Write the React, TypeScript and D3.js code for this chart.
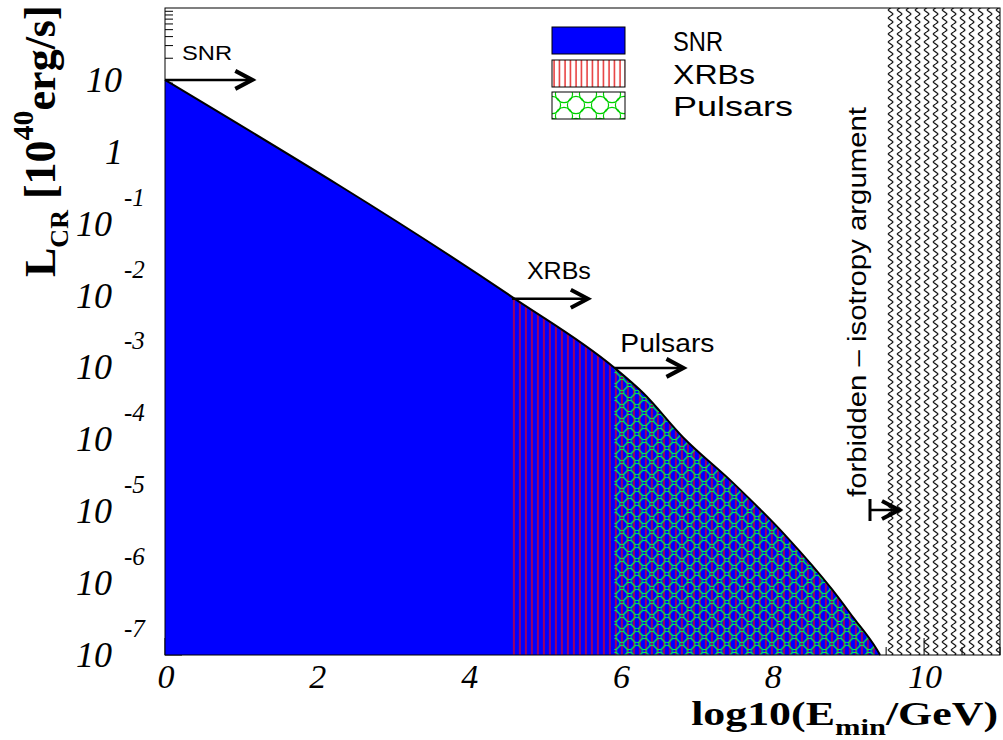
import React from "react";
import * as d3 from "d3";

// Minimum cosmic-ray luminosity curve vs. log10 of the minimum energy
const energyLog = [0, 4.57, 5.92, 6.3, 6.82, 7.48, 8.19, 8.79, 9.06, 9.38, 9.42];
const luminosity = [10, 9.6e-3, 9.9e-4, 4.4e-4, 1.08e-4, 2.5e-5, 4.4e-6, 8.1e-7, 3.4e-7, 1.18e-7, 1.0e-7];

// Energy thresholds where each source class becomes relevant
const xrbStart = 4.57;
const pulsarStart = 5.92;
const forbiddenStart = 9.5;

const xTickValues = [0, 2, 4, 6, 8, 10];
const yExponents = [1, 0, -1, -2, -3, -4, -5, -6, -7];
const legendLabels = ["SNR", "XRBs", "Pulsars"];

// Source annotation arrows: start energy, end energy, luminosity level
const arrowLabels = ["SNR", "XRBs", "Pulsars"];
const arrowStarts = [0, 4.57, 5.92];
const arrowEnds = [1.15, 5.57, 6.83];
const arrowLevels = [10, 9.0e-3, 9.86e-4];

const W = 1003;
const H = 740;
const left = 165;
const right = 1000;
const top = 8;
const bottom = 655;

const x = d3.scaleLinear().domain([0, 11]).range([left, right]);
const y = d3.scaleLog().domain([1e-7, 1e2]).range([bottom, top]);

const points = energyLog.map((e, i) => ({ e, l: luminosity[i] }));

const area = d3
  .area<{ e: number; l: number }>()
  .x((d) => x(d.e))
  .y0(y(1e-7))
  .y1((d) => y(d.l))
  .curve(d3.curveMonotoneX);

const line = d3
  .line<{ e: number; l: number }>()
  .x((d) => x(d.e))
  .y((d) => y(d.l))
  .curve(d3.curveMonotoneX);

const serif = "'Liberation Serif', 'Times New Roman', serif";
const sans = "'Liberation Sans', Arial, sans-serif";

function Arrow({ x0, x1, yy }: { x0: number; x1: number; yy: number }) {
  return (
    <g stroke="#000" fill="none">
      <line x1={x0} y1={yy} x2={x1 - 2} y2={yy} strokeWidth={2.5} />
      <polyline
        points={`${x1 - 17},${yy - 9} ${x1},${yy} ${x1 - 17},${yy + 9}`}
        strokeWidth={4}
        strokeLinejoin="miter"
      />
    </g>
  );
}

export default function App() {
  const areaPath = area(points) || "";
  const linePath = line(points) || "";

  const xMinor = d3.range(0, 11.01, 0.5).filter((v) => Math.abs(v % 2) > 1e-6);
  const yMinor: number[] = [];
  for (let k = -7; k < 2; k++) {
    for (let m = 2; m <= 9; m++) yMinor.push(m * Math.pow(10, k));
  }

  const legendX = 552;
  const legendY = [27, 60, 92];
  const legendTextW = [50, 82, 120];
  const arrowTextDx = [17, 15, 6];
  const arrowTextDy = [-20, -20, -16];
  const arrowTextW = [50, 64, 94];
  const arrowFont = [21, 24, 26];

  return (
    <svg
      width={W}
      height={H}
      style={{ position: "absolute", left: 0, top: 0, background: "#fff" }}
    >
      <defs>
        <pattern id="xrbHatch" width={6} height={10} patternUnits="userSpaceOnUse" x={x(xrbStart)}>
          <line x1={2} y1={0} x2={2} y2={10} stroke="#ff0000" strokeWidth={1.5} strokeOpacity={0.8} />
        </pattern>
        <pattern id="xrbLegend" width={5.5} height={10} patternUnits="userSpaceOnUse" x={legendX}>
          <line x1={2} y1={0} x2={2} y2={10} stroke="#e00000" strokeWidth={1.2} />
        </pattern>
        <pattern id="pulsarHatch" width={15} height={14} patternUnits="userSpaceOnUse" x={x(pulsarStart)}>
          {[
            [0, 0],
            [15, 0],
            [0, 14],
            [15, 14],
            [7.5, 7],
          ].map(([cx, cy], i) => (
            <circle key={i} cx={cx} cy={cy} r={5.6} fill="none" stroke="#00ff40" strokeWidth={1} />
          ))}
        </pattern>
        <pattern
          id="pulsarLegend"
          width={24}
          height={22}
          patternUnits="userSpaceOnUse"
          x={legendX - 12}
          y={legendY[2] + 2}
        >
          {[
            [0, 0],
            [24, 0],
            [0, 22],
            [24, 22],
            [12, 11],
          ].map(([cx, cy], i) => (
            <circle key={i} cx={cx} cy={cy} r={8.6} fill="none" stroke="#00d000" strokeWidth={1.2} />
          ))}
        </pattern>
        <pattern id="wave" width={9} height={8} patternUnits="userSpaceOnUse" x={x(forbiddenStart)} y={top}>
          <path d="M4.5,0 C1.4,2 1.4,2 4.5,4 C7.6,6 7.6,6 4.5,8" fill="none" stroke="#000" strokeWidth={1.3} />
        </pattern>
        <clipPath id="xrbClip">
          <rect x={x(xrbStart)} y={top} width={right - x(xrbStart)} height={bottom - top} />
        </clipPath>
        <clipPath id="pulsarClip">
          <rect x={x(pulsarStart)} y={top} width={right - x(pulsarStart)} height={bottom - top} />
        </clipPath>
      </defs>

      {/* axis ticks, drawn below the filled areas */}
      <g stroke="#000" strokeWidth={1}>
        {xTickValues.map((v) => (
          <line key={`xt${v}`} x1={x(v)} x2={x(v)} y1={bottom} y2={bottom - 17} />
        ))}
        {xMinor.map((v) => (
          <line key={`xm${v}`} x1={x(v)} x2={x(v)} y1={bottom} y2={bottom - 8} />
        ))}
        {yExponents.map((k) => (
          <line key={`yt${k}`} x1={left} x2={left + 17} y1={y(Math.pow(10, k))} y2={y(Math.pow(10, k))} />
        ))}
        {yMinor.map((v, i) => (
          <line key={`ym${i}`} x1={left} x2={left + 8} y1={y(v)} y2={y(v)} />
        ))}
      </g>

      {/* luminosity regions */}
      <path d={areaPath} fill="#0000ff" />
      <path d={areaPath} fill="url(#xrbHatch)" clipPath="url(#xrbClip)" />
      <path d={areaPath} fill="url(#pulsarHatch)" clipPath="url(#pulsarClip)" />
      <path d={linePath} fill="none" stroke="#000" strokeWidth={2} />

      {/* forbidden region */}
      <rect
        x={x(forbiddenStart)}
        y={top}
        width={right - x(forbiddenStart)}
        height={bottom - top}
        fill="url(#wave)"
      />

      {/* frame */}
      <rect x={left} y={top} width={right - left} height={bottom - top} fill="none" stroke="#000" strokeWidth={1} />

      {/* source arrows */}
      {arrowLabels.map((lab, i) => {
        const yy = y(arrowLevels[i]);
        const xs = x(arrowStarts[i]);
        return (
          <g key={lab}>
            <Arrow x0={xs} x1={x(arrowEnds[i])} yy={yy} />
            <text
              x={xs + arrowTextDx[i]}
              y={yy + arrowTextDy[i]}
              fontFamily={sans}
              fontSize={arrowFont[i]}
              textLength={arrowTextW[i]}
              lengthAdjust="spacingAndGlyphs"
            >
              {lab}
            </text>
          </g>
        );
      })}

      {/* forbidden annotation */}
      <g>
        <line x1={870} x2={870} y1={499} y2={521} stroke="#000" strokeWidth={3} />
        <Arrow x0={870} x1={899} yy={510} />
        <text
          transform="translate(866,497) rotate(-90)"
          fontFamily={sans}
          fontSize={25}
          textLength={390}
          lengthAdjust="spacingAndGlyphs"
        >
          forbidden – isotropy argument
        </text>
      </g>

      {/* legend */}
      {legendLabels.map((lab, i) => (
        <g key={lab}>
          <rect x={legendX} y={legendY[i]} width={73} height={27} fill="#fff" />
          <rect
            x={legendX}
            y={legendY[i]}
            width={73}
            height={27}
            fill={i === 0 ? "#0000ff" : i === 1 ? "url(#xrbLegend)" : "url(#pulsarLegend)"}
            stroke="#000"
            strokeWidth={1}
          />
          <text
            x={673}
            y={legendY[i] + 24}
            fontFamily={sans}
            fontSize={28}
            textLength={legendTextW[i]}
            lengthAdjust="spacingAndGlyphs"
          >
            {lab}
          </text>
        </g>
      ))}

      {/* x tick labels */}
      {xTickValues.map((v) => (
        <text
          key={`xl${v}`}
          x={x(v) + 1}
          y={688}
          textAnchor="middle"
          fontFamily={serif}
          fontStyle="italic"
          fontSize={34}
        >
          {v}
        </text>
      ))}

      {/* y tick labels */}
      {yExponents.map((k) => {
        const ty = y(Math.pow(10, k));
        if (k === 1)
          return (
            <text key={`yl${k}`} x={122} y={ty + 12} textAnchor="end" fontFamily={serif} fontStyle="italic" fontSize={36}>
              10
            </text>
          );
        if (k === 0)
          return (
            <text key={`yl${k}`} x={123} y={ty + 12} textAnchor="end" fontFamily={serif} fontStyle="italic" fontSize={36}>
              1
            </text>
          );
        return (
          <g key={`yl${k}`} fontFamily={serif} fontStyle="italic">
            <text x={112} y={ty + 12} textAnchor="end" fontSize={36}>
              10
            </text>
            <text x={124} y={ty - 18} fontSize={25}>
              {`-${-k}`}
            </text>
          </g>
        );
      })}

      {/* axis titles */}
      <g transform="translate(998,725) scale(1.33,1)">
        <text textAnchor="end" fontFamily={serif} fontWeight="bold" fontSize={33}>
          log10(E
          <tspan dy={10} fontSize={23}>
            min
          </tspan>
          <tspan dy={-10} fontSize={33}>
            /GeV)
          </tspan>
        </text>
      </g>
      <g transform="translate(55,277) rotate(-90)">
        <text fontFamily={serif} fontWeight="bold" fontSize={44}>
          L
          <tspan dy={13} fontSize={26}>
            CR
          </tspan>
          <tspan dy={-13} fontSize={44}>
            {" [10"}
          </tspan>
          <tspan dy={-22} fontSize={30}>
            40
          </tspan>
          <tspan dy={22} fontSize={44}>
            erg/s]
          </tspan>
        </text>
      </g>
    </svg>
  );
}
